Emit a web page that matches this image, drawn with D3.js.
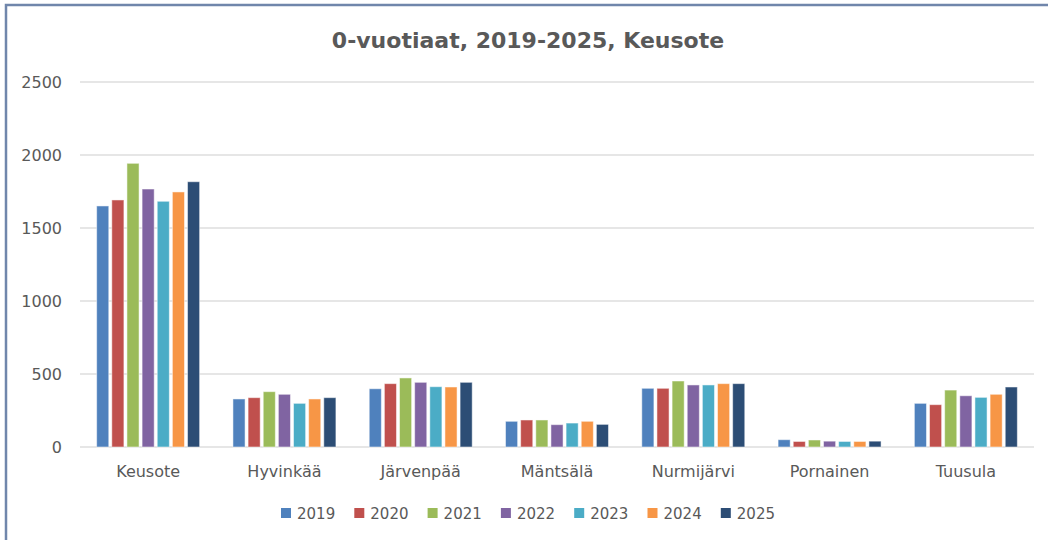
<!DOCTYPE html>
<html>
<head>
<meta charset="utf-8">
<script src="https://cdn.jsdelivr.net/npm/d3@7"></script>
<style>
  body { margin: 0; background: #fff; }
  svg { display: block; }
</style>
</head>
<body>
<div id="chart"></div>
<script>
const municipalities = ["Keusote", "Hyvinkää", "Järvenpää", "Mäntsälä", "Nurmijärvi", "Pornainen", "Tuusula"];
const years = ["2019", "2020", "2021", "2022", "2023", "2024", "2025"];
const colors = ["#4f81bd", "#c0504d", "#9bbb59", "#8064a2", "#4bacc6", "#f79646", "#2c4d75"];
const yTicks = [0, 500, 1000, 1500, 2000, 2500];

// one array per year, in municipality order
const v2019 = [1651, 329, 399, 176, 402, 50, 299];
const v2020 = [1692, 338, 434, 185, 402, 38, 290];
const v2021 = [1943, 379, 473, 185, 452, 48, 390];
const v2022 = [1767, 361, 443, 153, 425, 40, 351];
const v2023 = [1683, 299, 413, 164, 425, 38, 340];
const v2024 = [1747, 329, 411, 176, 434, 38, 361];
const v2025 = [1817, 338, 443, 155, 434, 40, 411];
const series = [v2019, v2020, v2021, v2022, v2023, v2024, v2025];

const w = 1048, h = 540;
const plotLeft = 80, plotRight = 1034, plotTop = 82, plotBottom = 447;
const textColor = "#595959";

const svg = d3.select("#chart").append("svg")
  .attr("width", w)
  .attr("height", h);

// chart frame (partly cropped like the screenshot)
svg.append("rect")
  .attr("x", 6).attr("y", 5)
  .attr("width", w + 20).attr("height", h + 20)
  .attr("fill", "#fff")
  .attr("stroke", "#7086ab")
  .attr("stroke-width", 2.5);

const x0 = d3.scaleBand()
  .domain(municipalities)
  .range([plotLeft, plotRight])
  .paddingInner(0.2)
  .paddingOuter(0.1);

const x1 = d3.scaleBand()
  .domain(years)
  .range([0, x0.bandwidth()])
  .padding(0.2);

const y = d3.scaleLinear()
  .domain([0, 2500])
  .range([plotBottom, plotTop]);

// gridlines
svg.append("g")
  .selectAll("line")
  .data(yTicks)
  .enter()
  .append("line")
  .attr("x1", plotLeft).attr("x2", plotRight)
  .attr("y1", d => y(d)).attr("y2", d => y(d))
  .attr("stroke", "#dedede")
  .attr("stroke-width", 1.5);

// y labels
const yAxis = d3.axisLeft(y).tickValues(yTicks).tickFormat(d3.format("d")).tickSize(0).tickPadding(0);
const yg = svg.append("g")
  .attr("transform", "translate(62,0)")
  .call(yAxis);
yg.select(".domain").remove();
yg.selectAll("text")
  .style("font-family", "'DejaVu Sans', sans-serif")
  .style("font-size", "16px")
  .attr("fill", textColor);

// bars
const groups = svg.append("g")
  .selectAll("g")
  .data(municipalities)
  .enter()
  .append("g")
  .attr("transform", d => "translate(" + x0(d) + ",0)");

groups.selectAll("rect")
  .data((m, i) => years.map((yr, j) => ({ year: yr, value: series[j][i], c: colors[j] })))
  .enter()
  .append("rect")
  .attr("x", d => x1(d.year))
  .attr("y", d => y(d.value))
  .attr("width", x1.bandwidth())
  .attr("height", d => plotBottom - y(d.value))
  .attr("fill", d => d.c)
  .attr("stroke", "#ffffff")
  .attr("stroke-opacity", 0.5)
  .attr("stroke-width", 1);

// category labels
const xAxis = d3.axisBottom(x0).tickSize(0).tickPadding(0);
const xg = svg.append("g")
  .attr("transform", "translate(0,466)")
  .call(xAxis);
xg.select(".domain").remove();
xg.selectAll("text")
  .style("font-family", "'DejaVu Sans', sans-serif")
  .style("font-size", "16px")
  .attr("fill", textColor);

// title
svg.append("text")
  .attr("x", 528)
  .attr("y", 48)
  .attr("text-anchor", "middle")
  .style("font-family", "'DejaVu Sans', sans-serif")
  .style("font-weight", "bold")
  .style("font-size", "22px")
  .attr("fill", textColor)
  .text("0-vuotiaat, 2019-2025, Keusote");

// legend
const legend = svg.append("g")
  .selectAll("g")
  .data(years)
  .enter()
  .append("g")
  .attr("transform", (d, i) => "translate(" + (281 + i * 73.3) + ",508)");

legend.append("rect")
  .attr("width", 10).attr("height", 10)
  .attr("fill", (d, i) => colors[i]);

legend.append("text")
  .attr("x", 16)
  .attr("y", 10.5)
  .style("font-family", "'DejaVu Sans', sans-serif")
  .style("font-size", "15px")
  .attr("fill", textColor)
  .text(d => d);
</script>
</body>
</html>
